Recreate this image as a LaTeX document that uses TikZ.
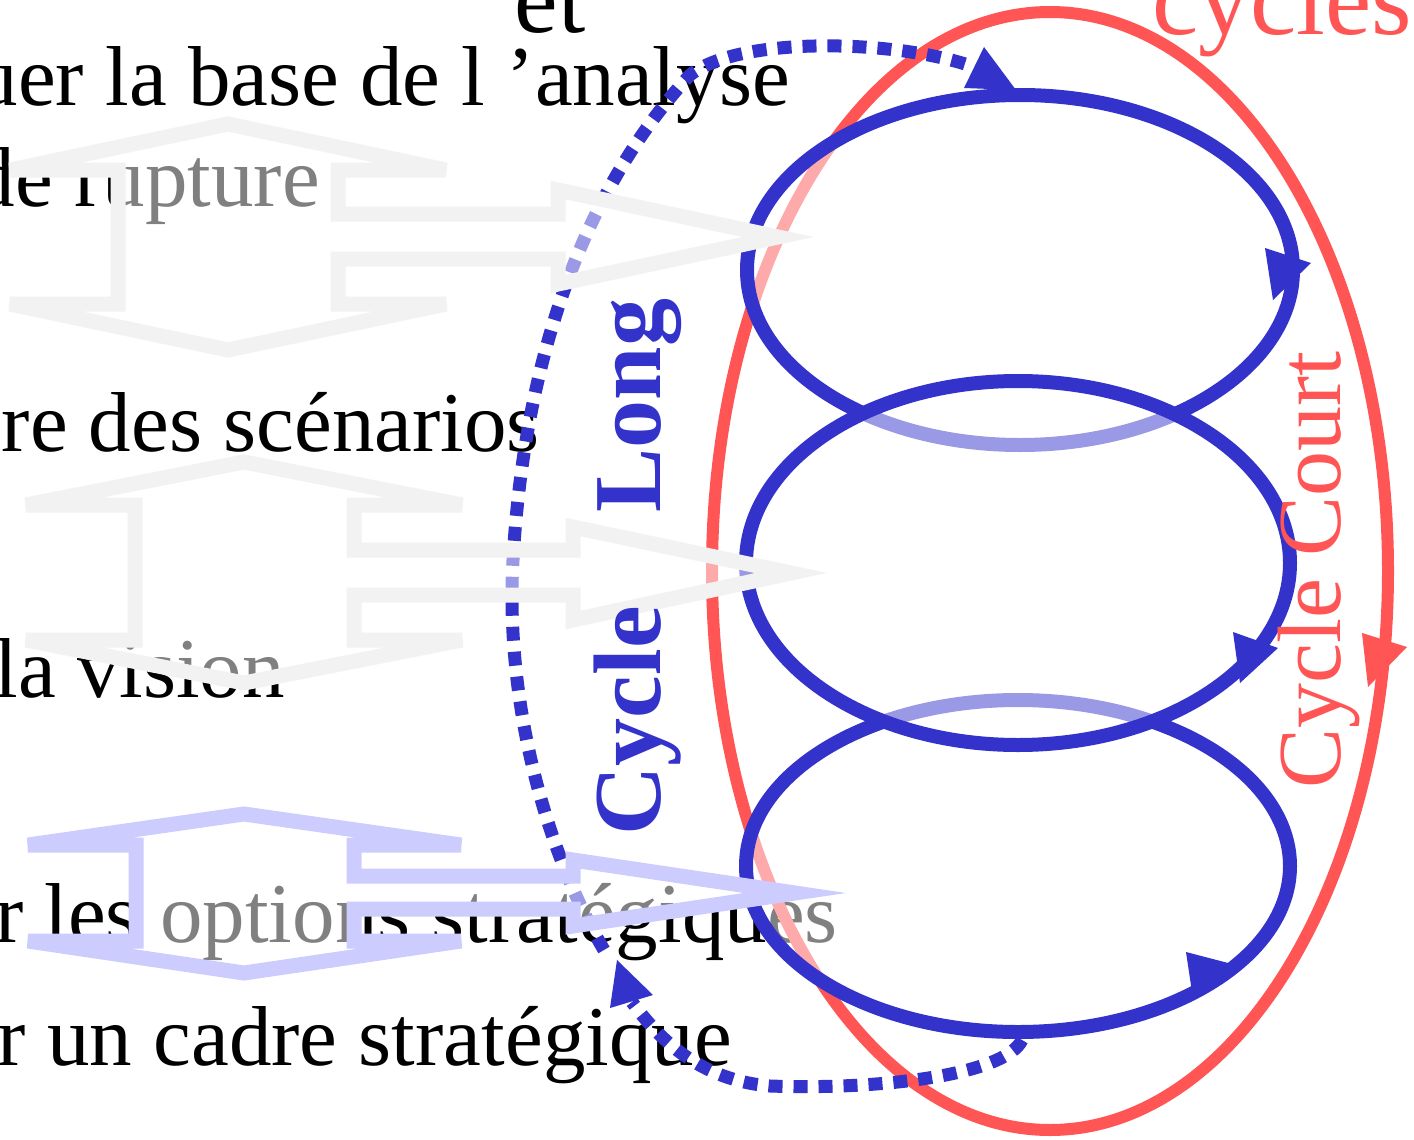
\documentclass[tikz,border=0pt]{standalone}
\usepackage{fontspec}
\setmainfont{Liberation Serif}
\definecolor{cblue}{HTML}{3333CC}
\definecolor{cred}{HTML}{FF5555}
\definecolor{cgray}{HTML}{F2F2F2}
\definecolor{clblue}{HTML}{CCCCFF}
\begin{document}
\begin{tikzpicture}[x=1pt,y=-1pt,
  body/.style={font=\fontsize{85}{85}\selectfont, anchor=base east, inner sep=0pt, text=black},
  title/.style={font=\fontsize{98}{98}\selectfont, inner sep=0pt},
  bigarrow/.style={line width=15pt, fill=white, fill opacity=0.5, draw opacity=1, line join=miter, miter limit=8},
  loop/.style={draw=cblue, line width=14pt, fill=white, fill opacity=0.5, draw opacity=1},
  dots/.style={draw=cblue, line width=13pt, dash pattern=on 14pt off 11pt},
]
\useasboundingbox (0,0) rectangle (1414,1140);
\clip (0,0) rectangle (1414,1140);
\fill[white] (0,0) rectangle (1414,1140);

% texts (below everything)
\node[title, anchor=base] (et) at (550,33) {et};
\node[body] (t1) at (790,105) {uer la base de l ’analyse};
\node[body] (t2) at (320,206) {de rupture};
\node[body] (t3) at (540,451) {re des scénarios};
\node[body] (t4) at (285,697) {la vision};
\node[body] (t5) at (838,942) {r les options stratégiques};
\node[body] (t6) at (732,1065) {r un cadre stratégique};

% short cycle (red)
\draw[cred, line width=12pt] (1050,571) ellipse [x radius=338pt, y radius=559pt];
\fill[cred] (1362,633) -- (1407,647) -- (1368,687) -- cycle;

% three loops
\draw[loop] (1020,270) ellipse [x radius=273pt, y radius=175pt];
\fill[cblue] (1265,248) -- (1311,263) -- (1273,300) -- cycle;
\draw[loop] (1018,866) ellipse [x radius=272pt, y radius=166pt];
\fill[cblue] (1186,952) -- (1232,964) -- (1192,992) -- cycle;
\draw[loop] (1018,563) ellipse [x radius=272pt, y radius=182pt];
\fill[cblue] (1233,632) -- (1278,648) -- (1240,683) -- cycle;

% long cycle (dotted)
\coordinate (lbs) at (1022,1040);
\coordinate (lbe) at (632,1002);
\coordinate (lts) at (604,950);
\coordinate (lte) at (974,67);
\draw[dots] (lbs) .. controls (1005,1075) and (880,1090) .. (770,1086)
   .. controls (700,1080) and (660,1040) .. (lbe);
\fill[cblue] (617,960) -- (610,1008) -- (653,995) -- cycle;
\draw[dots] (lts) .. controls (545,850) and (505,700) .. (513,560)
   .. controls (522,400) and (565,210) .. (690,75)
   .. controls (740,35) and (900,40) .. (lte);
\fill[cblue] (1016,90) -- (964,88) -- (984,47) -- cycle;

% block arrows
\draw[bigarrow, draw=cgray] (118,170) -- (10,170) -- (228,124) -- (446,170) -- (338,170)
  -- (338,214) -- (558,214) -- (558,190) -- (778,237) -- (558,284) -- (558,259)
  -- (338,259) -- (338,304) -- (446,304) -- (228,350) -- (10,304) -- (118,304) -- cycle;
\draw[bigarrow, draw=cgray] (135,505) -- (26,505) -- (244,462) -- (462,505) -- (354,505)
  -- (354,550) -- (573,550) -- (573,527) -- (791,573) -- (573,620) -- (573,595)
  -- (354,595) -- (354,640) -- (462,640) -- (244,683) -- (26,640) -- (135,640) -- cycle;
\draw[bigarrow, draw=clblue] (136,845) -- (28,845) -- (244,814) -- (461,845) -- (354,845)
  -- (354,876) -- (573,876) -- (573,860) -- (795,893) -- (573,926) -- (573,909)
  -- (354,909) -- (354,941) -- (461,941) -- (244,973) -- (28,941) -- (136,941) -- cycle;

% labels
\node[font=\bfseries\fontsize{96}{96}\selectfont, text=cblue, rotate=90, anchor=base, inner sep=0pt] (long) at (660,567) {Cycle\hspace{70pt} Long};
\node[font=\fontsize{90}{90}\selectfont, text=cred, rotate=90, anchor=base, inner sep=0pt] (court) at (1340,570) {Cycle Court};
\node[font=\fontsize{104}{104}\selectfont, inner sep=0pt, text=cred, anchor=base west] (cyc) at (1152,35) {cycles};
\end{tikzpicture}
\end{document}
